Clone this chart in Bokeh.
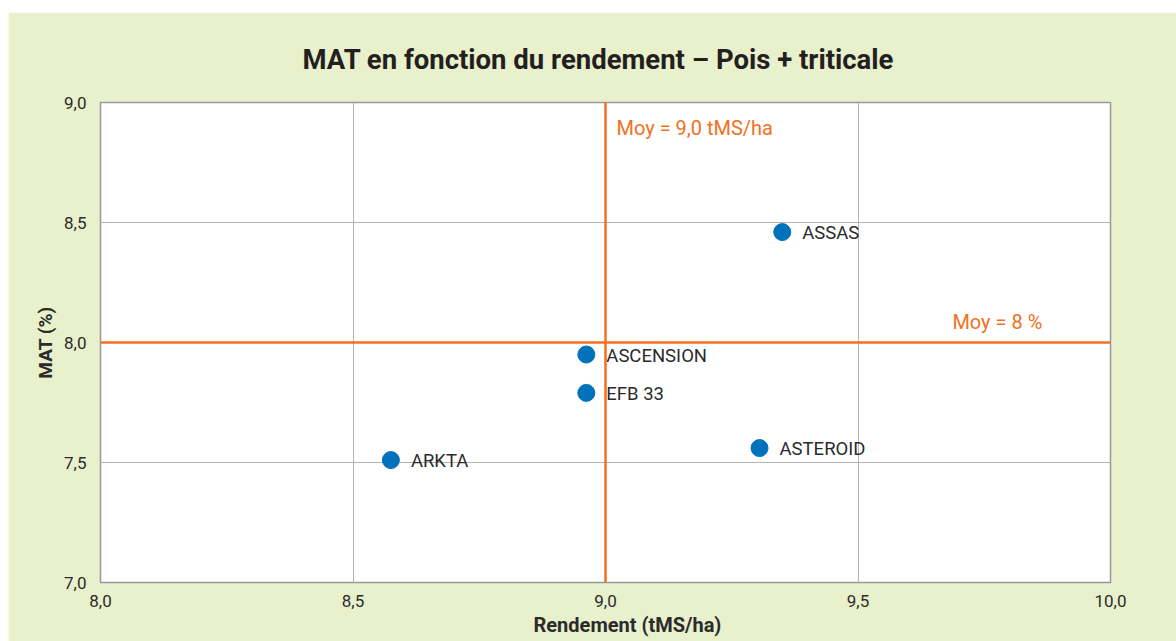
from bokeh.plotting import figure
from bokeh.models import Span, Label, FixedTicker, ColumnDataSource, Range1d, Spacer, Title
from bokeh.layouts import column, row
from bokeh.embed import file_html
from bokeh.resources import INLINE
from bokeh.core.properties import value

# Data
varieties = ["ASSAS", "ASCENSION", "EFB 33", "ARKTA", "ASTEROID"]
rendement = [9.35, 8.962, 8.962, 8.575, 9.305]
mat = [8.46, 7.95, 7.79, 7.51, 7.56]
mean_rendement = 9.0
mean_mat = 8.0
x_ticks = [8.0, 8.5, 9.0, 9.5, 10.0]
x_tick_labels = ["8,0", "8,5", "9,0", "9,5", "10,0"]
y_ticks = [7.0, 7.5, 8.0, 8.5, 9.0]
y_tick_labels = ["7,0", "7,5", "8,0", "8,5", "9,0"]

BG = "#e8f0cc"
ORANGE = "#f37021"
BLUE = "#0072bc"
TXT = "#2b2b2b"
FONT = "Roboto"

W, H = 1168, 629
p = figure(width=W, height=H, output_backend="svg", toolbar_location=None,
           x_range=Range1d(8.0, 10.0), y_range=Range1d(7.0, 9.0),
           min_border_left=92, min_border_right=66, min_border_top=90, min_border_bottom=59)
p.background_fill_color = "white"
p.border_fill_color = BG
p.outline_line_color = "#999999"
p.outline_line_width = 1.5

p.title.text = "MAT en fonction du rendement – Pois + triticale"
p.title.align = "left"
p.title.offset = 202
p.title.standoff = 53
p.title.text_font = FONT
p.title.text_font_size = "27.5px"
p.title.text_font_style = "bold"
p.title.text_color = "#231f20"

for ax in (p.xaxis[0], p.yaxis[0]):
    ax.axis_line_color = None
    ax.major_tick_line_color = None
    ax.minor_tick_line_color = None
    ax.major_label_text_font = FONT
    ax.major_label_text_font_size = "17px"
    ax.major_label_text_color = TXT
    ax.axis_label_text_font = FONT
    ax.axis_label_text_font_size = "19px"
    ax.axis_label_text_font_style = "bold"
    ax.axis_label_text_color = TXT

p.xaxis.ticker = FixedTicker(ticks=x_ticks)
p.yaxis.ticker = FixedTicker(ticks=y_ticks)
p.xaxis.major_label_overrides = dict(zip(x_ticks, x_tick_labels))
p.yaxis.major_label_overrides = dict(zip(y_ticks, y_tick_labels))
p.xaxis.major_label_standoff = 6
p.yaxis.major_label_standoff = 8
p.yaxis.axis_label = "MAT (%)"
p.yaxis.axis_label_standoff = 4

xtitle = Title(text="Rendement (tMS/ha)", align="left", offset=433, standoff=2,
               text_font=FONT, text_font_size="20px", text_font_style="bold",
               text_color=TXT)
p.add_layout(xtitle, "below")

p.grid.grid_line_color = "#b4b4b4"
p.grid.grid_line_width = 1

p.add_layout(Span(location=mean_rendement, dimension="height", line_color=ORANGE, line_width=2.5))
p.add_layout(Span(location=mean_mat, dimension="width", line_color=ORANGE, line_width=2.5))

src = ColumnDataSource(dict(x=rendement, y=mat, name=varieties))
p.scatter("x", "y", source=src, size=17, fill_color=BLUE, line_color=BLUE)
p.text("x", "y", text="name", source=src, x_offset=20, y_offset=1,
       text_font=value(FONT), text_font_size="18.5px", text_color=TXT,
       text_baseline="middle", text_align="left")

p.add_layout(Label(x=mean_rendement, y=8.895, text="Moy = 9,0 tMS/ha", x_offset=11,
                   text_font=FONT, text_font_size="20px", text_color=ORANGE,
                   text_baseline="alphabetic"))
p.add_layout(Label(x=9.865, y=mean_mat, text="Moy = 8 %", y_offset=21,
                   text_font=FONT, text_font_size="20px", text_color=ORANGE,
                   text_baseline="alphabetic", text_align="right"))

layout = column(Spacer(height=12), row(Spacer(width=8), p))
open("out.html", "w").write(file_html(layout, INLINE))
